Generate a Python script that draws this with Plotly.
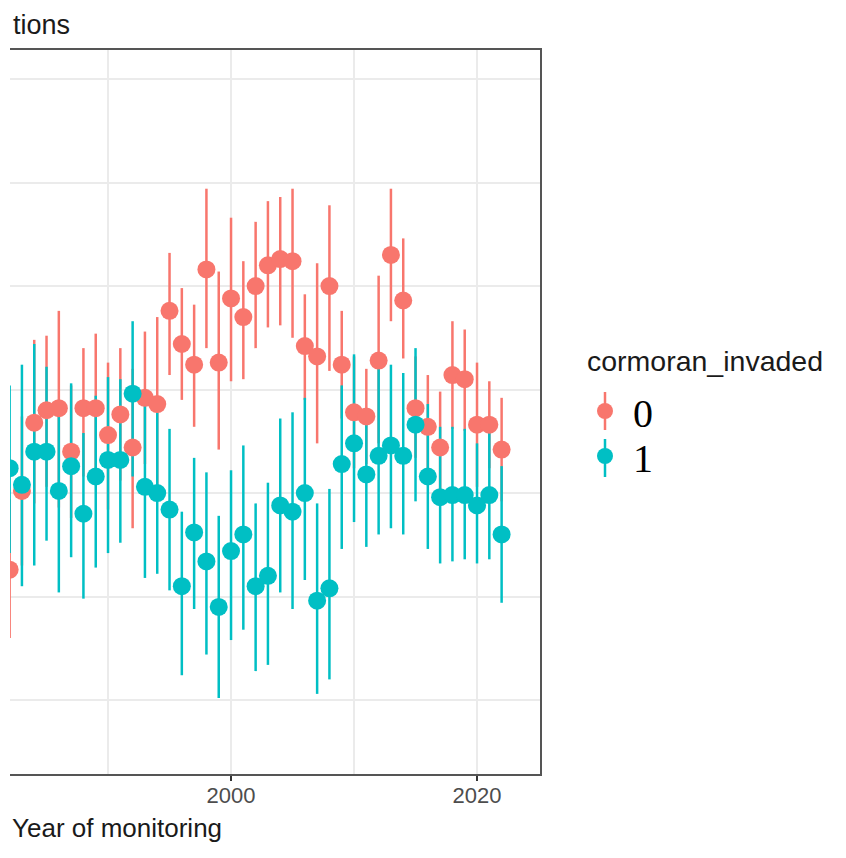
import plotly.graph_objects as go

years = list(range(1982, 2023))

# cormoran_invaded = 0
est0 = [1.63, 2.01, 2.34, 2.40, 2.41, 2.20, 2.41, 2.41, 2.28, 2.38,
        2.22, 2.46, 2.43, 2.88, 2.72, 2.62, 3.08, 2.63, 2.94, 2.85,
        3.00, 3.10, 3.13, 3.12, 2.71, 2.66, 3.00, 2.62, 2.39, 2.37,
        2.64, 3.15, 2.93, 2.41, 2.32, 2.22, 2.57, 2.55, 2.33, 2.33, 2.21]
lo0 = [1.30, 1.65, 1.95, 2.03, 1.93, 1.88, 2.08, 2.05, 1.92, 2.06,
       1.83, 2.14, 2.01, 2.57, 2.45, 2.32, 2.70, 2.21, 2.54, 2.55,
       2.70, 2.80, 2.81, 2.75, 2.45, 2.24, 2.59, 2.36, 2.12, 2.14,
       2.24, 2.83, 2.65, 2.17, 2.07, 1.95, 2.31, 2.30, 2.03, 2.12, 1.96]
hi0 = [1.97, 2.37, 2.74, 2.76, 2.88, 2.52, 2.70, 2.77, 2.63, 2.70,
       2.60, 2.78, 2.85, 3.16, 2.99, 2.91, 3.47, 3.07, 3.33, 3.12,
       3.31, 3.41, 3.43, 3.47, 2.96, 3.11, 3.39, 2.88, 2.66, 2.60,
       3.05, 3.47, 3.23, 2.66, 2.57, 2.49, 2.83, 2.79, 2.63, 2.54, 2.46]

# cormoran_invaded = 1
est1 = [2.12, 2.04, 2.20, 2.20, 2.01, 2.13, 1.90, 2.08, 2.16, 2.16,
        2.48, 2.03, 2.00, 1.92, 1.55, 1.81, 1.67, 1.45, 1.72, 1.80,
        1.55, 1.60, 1.94, 1.91, 2.00, 1.48, 1.54, 2.14, 2.24, 2.09,
        2.18, 2.23, 2.18, 2.33, 2.08, 1.98, 1.99, 1.99, 1.94, 1.99, 1.80]
lo1 = [1.71, 1.55, 1.65, 1.77, 1.52, 1.69, 1.49, 1.64, 1.71, 1.76,
       2.08, 1.59, 1.61, 1.53, 1.12, 1.44, 1.22, 1.01, 1.29, 1.34,
       1.14, 1.17, 1.52, 1.44, 1.58, 1.03, 1.10, 1.73, 1.86, 1.74,
       1.80, 1.83, 1.80, 1.96, 1.73, 1.66, 1.67, 1.68, 1.66, 1.68, 1.47]
hi1 = [2.52, 2.62, 2.72, 2.61, 2.45, 2.53, 2.29, 2.47, 2.56, 2.55,
       2.83, 2.45, 2.39, 2.31, 1.91, 2.17, 2.10, 1.89, 2.11, 2.23,
       1.95, 2.05, 2.36, 2.39, 2.46, 1.95, 2.02, 2.52, 2.67, 2.35,
       2.60, 2.62, 2.58, 2.70, 2.43, 2.32, 2.32, 2.31, 2.24, 2.30, 2.13]

group_labels = ["0", "1"]
legend_title = "cormoran_invaded"
x_title = "Year of monitoring"
plot_title = "tions"

RED = "#F8766D"
TEAL = "#00BFC4"

# page body has an 8px margin; figure coordinates below are window - 8
W, H = 838, 850
ML, MR, MT, MB = 2, 306, 42, 84
PW = W - ML - MR
PH = H - MT - MB


def px_x(p):
    return (p - ML) / PW


def px_y(p):
    return (H - MB - p) / PH


def err_trace(est, lo, hi, color):
    return go.Scatter(
        x=years, y=est, mode="markers",
        marker=dict(size=1, color=color, opacity=0),
        error_y=dict(type="data", symmetric=False,
                     array=[h - e for h, e in zip(hi, est)],
                     arrayminus=[e - l for e, l in zip(est, lo)],
                     color=color, thickness=2.5, width=0),
        showlegend=False, hoverinfo="skip",
    )


fig = go.Figure()
fig.add_trace(err_trace(est0, lo0, hi0, RED))
fig.add_trace(err_trace(est1, lo1, hi1, TEAL))
fig.add_trace(go.Scatter(x=years, y=est0, mode="markers", name=group_labels[0],
                         marker=dict(size=18, color=RED), legend="legend"))
fig.add_trace(go.Scatter(x=years, y=est1, mode="markers", name=group_labels[1],
                         marker=dict(size=18, color=TEAL), legend="legend2"))

grid = "#ebebeb"
border = "#555555"
serif = "Liberation Serif, Times New Roman, serif"
sans = "Liberation Sans, Arial, sans-serif"
LEG_LEFT = 569

fig.update_layout(
    width=W, height=H,
    margin=dict(l=ML, r=MR, t=MT, b=MB, pad=0),
    paper_bgcolor="white", plot_bgcolor="white",
    hovermode=False,
    xaxis=dict(range=[1982.03, 2025.12], tick0=2000, dtick=20,
               showgrid=True, gridcolor=grid, gridwidth=1.5,
               minor=dict(dtick=10, tick0=2000, showgrid=True, gridcolor=grid, gridwidth=1.5),
               ticks="outside", ticklen=5, tickwidth=1.6, tickcolor="#333333",
               ticklabelstandoff=-4,
               tickfont=dict(family=sans, size=22, color="#4d4d4d"),
               showline=True, mirror=True, linecolor=border, linewidth=2,
               zeroline=False),
    yaxis=dict(range=[0.643, 4.140], tick0=1, dtick=0.5,
               showgrid=True, gridcolor=grid, gridwidth=1.5,
               showticklabels=False, ticks="", side="right",
               showline=True, linecolor=border, linewidth=2, zeroline=False),
    legend=dict(
        font=dict(family=serif, size=40, color="black"),
        x=px_x(LEG_LEFT), y=px_y(403), xanchor="left", yanchor="middle",
        bgcolor="rgba(0,0,0,0)", itemwidth=46,
    ),
    legend2=dict(
        font=dict(family=serif, size=40, color="black"),
        x=px_x(LEG_LEFT), y=px_y(448), xanchor="left", yanchor="middle",
        bgcolor="rgba(0,0,0,0)", itemwidth=46,
    ),
    annotations=[
        dict(text=plot_title, xref="paper", yref="paper", x=px_x(3), y=px_y(0),
             xanchor="left", yanchor="top", showarrow=False,
             font=dict(family=sans, size=27, color="#1a1a1a")),
        dict(text=x_title, xref="paper", yref="paper", x=px_x(2), y=px_y(820),
             xanchor="left", yanchor="middle", showarrow=False,
             font=dict(family=sans, size=26, color="#1a1a1a")),
        dict(text=legend_title, xref="paper", yref="paper", x=px_x(577), y=px_y(353),
             xanchor="left", yanchor="middle", showarrow=False,
             font=dict(family=sans, size=28.5, color="#1a1a1a")),
    ],
    shapes=[
        dict(type="line", xref="paper", yref="paper", x0=px_x(597), x1=px_x(597),
             y0=px_y(422), y1=px_y(384), line=dict(color=RED, width=2.5), layer="above"),
        dict(type="line", xref="paper", yref="paper", x0=px_x(597), x1=px_x(597),
             y0=px_y(469), y1=px_y(431), line=dict(color=TEAL, width=2.5), layer="above"),
    ],
)

fig.write_html("out.html")
